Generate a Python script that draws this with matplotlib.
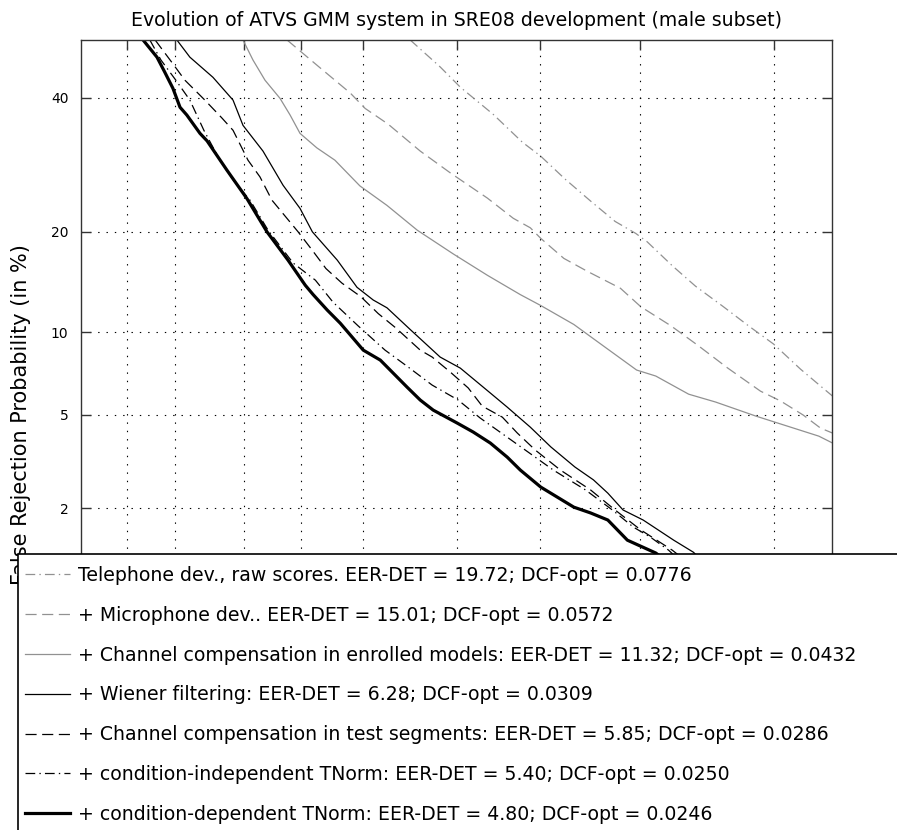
import numpy as np
import matplotlib
matplotlib.use('Agg')
import matplotlib.pyplot as plt
from matplotlib.patches import Rectangle
from statistics import NormalDist

# DET curves, values in % (false acceptance, false rejection)
tel_fa = [3.23, 4.3, 5.17, 6.89, 8.74, 10.1, 12.1, 14.5, 17.1, 19.5, 20.9, 24.2, 27.5, 31.7, 35.7, 39.9, 44.5, 48.4, 50.1, 53.3]
tel_fr = [50, 45.3, 41.8, 37.2, 32.7, 30.5, 27.1, 24, 21.3, 19.8, 18.8, 16.1, 14, 12.1, 10.5, 9.11, 7.44, 6.34, 5.91, 5.22]

mic_fa = [0.848, 1.22, 1.74, 2.04, 2.59, 3.56, 4.72, 6.55, 8.13, 9.31, 10.1, 12, 14.2, 17.7, 20.1, 24, 27.8, 32.4, 37.7, 41.1, 45, 48, 50.1, 53.3]
mic_fr = [50, 45.4, 40.8, 38.2, 35.6, 31.3, 28, 24.4, 21.7, 20.5, 19.2, 16.9, 15.5, 13.8, 12.1, 10.5, 9.03, 7.5, 6.17, 5.66, 4.99, 4.43, 4.23, 3.96]

enr_fa = [0.493, 0.559, 0.649, 0.779, 0.879, 0.988, 1.2, 1.47, 1.93, 2.56, 3.46, 4.85, 6.55, 8.6, 10.1, 12.9, 16, 19.6, 22, 26.5, 30.5, 36.9, 42.8, 47.7, 50.1, 53.3]
enr_fr = [50, 46.5, 43, 39.9, 37.1, 34.1, 31.8, 29.9, 26.1, 23.4, 20.2, 17.4, 15.1, 13.2, 12.2, 10.6, 8.89, 7.38, 7.02, 6.01, 5.61, 4.95, 4.47, 4.11, 3.85, 3.6]

wie_fa = [0.205, 0.245, 0.334, 0.434, 0.493, 0.633, 0.808, 0.988, 1.14, 1.51, 1.87, 2.22, 2.56, 3.23, 4.3, 5.17, 6.72, 7.74, 9.31, 10.9, 13, 14.8, 16.3, 18, 20.4, 24.4, 27.2, 31.3, 36.1]
wie_fr = [50, 47, 43.5, 39.6, 35.4, 31.3, 26.2, 23, 20, 16.7, 13.9, 12.7, 12, 10.2, 8.21, 7.5, 6.07, 5.36, 4.47, 3.71, 3.05, 2.68, 2.34, 1.96, 1.76, 1.41, 1.23, 0.891, 0.619]

tst_fa = [0.151, 0.191, 0.229, 0.3, 0.376, 0.434, 0.525, 0.61, 0.707, 0.966, 1.14, 1.33, 1.59, 1.95, 2.34, 2.81, 3.56, 3.99, 4.72, 5.55, 6.27, 7.43, 8.4, 9.68, 11.7, 14.5, 17.1, 20.1, 24.2, 29.7, 34.4]
tst_fr = [50, 46.1, 43, 39.6, 36.6, 34.6, 29.9, 27.4, 24.1, 20, 17.8, 15.8, 14.3, 13, 11.5, 10.3, 8.68, 8.21, 7.26, 6.34, 5.41, 4.9, 4.23, 3.6, 2.96, 2.42, 1.96, 1.58, 1.26, 0.891, 0.619]

ind_fa = [0.14, 0.164, 0.202, 0.245, 0.296, 0.366, 0.445, 0.539, 0.674, 0.91, 1.18, 1.44, 1.89, 2.51, 3.17, 3.99, 5.07, 6.16, 7.12, 8.95, 11.1, 14, 16.8, 19.2, 21.3, 23.7, 28.2, 32.8]
ind_fr = [50, 46.5, 43, 39.6, 34.6, 29.9, 26.6, 24.1, 20.2, 16.4, 14.6, 12.5, 10.5, 8.68, 7.56, 6.5, 5.71, 4.86, 4.35, 3.6, 2.96, 2.42, 1.96, 1.63, 1.46, 1.26, 0.891, 0.619]

dep_fa = [0.127, 0.155, 0.173, 0.194, 0.214, 0.235, 0.281, 0.309, 0.401, 0.519, 0.665, 0.858, 1.05, 1.15, 1.35, 1.56, 2, 2.39, 3.13, 3.56, 4.03, 5.03, 5.8, 6.72, 7.74, 8.6, 10.1, 12.9, 14.5, 16.3, 18.5, 22, 26.8, 31.3]
dep_fr = [50, 47, 44.4, 41.6, 38.4, 37.1, 34.1, 32.9, 28.4, 24.3, 20, 16.7, 14.1, 13.2, 11.8, 10.7, 8.68, 8.01, 6.39, 5.71, 5.22, 4.64, 4.27, 3.85, 3.36, 2.96, 2.49, 2.02, 1.9, 1.76, 1.41, 1.22, 0.891, 0.619]

labels = [
    'Telephone dev., raw scores. EER-DET = 19.72; DCF-opt = 0.0776',
    '+ Microphone dev.. EER-DET = 15.01; DCF-opt = 0.0572',
    '+ Channel compensation in enrolled models: EER-DET = 11.32; DCF-opt = 0.0432',
    '+ Wiener filtering: EER-DET = 6.28; DCF-opt = 0.0309',
    '+ Channel compensation in test segments: EER-DET = 5.85; DCF-opt = 0.0286',
    '+ condition-independent TNorm: EER-DET = 5.40; DCF-opt = 0.0250',
    '+ condition-dependent TNorm: EER-DET = 4.80; DCF-opt = 0.0246',
]
tick_vals = [0.1, 0.2, 0.5, 1, 2, 5, 10, 20, 40]
tick_labels = ['0.1', '0.2', '0.5', '1', '2', '5', '10', '20', '40']

# normal deviate (probit) scale used by DET plots
nd = NormalDist()
_ppf = np.vectorize(nd.inv_cdf, otypes=[float])
_cdf = np.vectorize(nd.cdf, otypes=[float])

def probit(p):
    p = np.clip(np.asarray(p, dtype=float) / 100.0, 1e-9, 1 - 1e-9)
    return _ppf(p)

def inv_probit(z):
    return 100.0 * _cdf(np.asarray(z, dtype=float))

plt.rcParams['font.family'] = 'DejaVu Sans'
plt.rcParams['lines.scale_dashes'] = False

fig = plt.figure(figsize=(8.97, 8.30), dpi=100)
ax = fig.add_axes([81 / 897, 1 - 790 / 830, 751 / 897, 750 / 830])
ax.set_xscale('function', functions=(probit, inv_probit))
ax.set_yscale('function', functions=(probit, inv_probit))

gray = '0.57'
dashdot = (0, (7, 3, 1, 3))
dashed = (0, (8, 4))
h1, = ax.plot(tel_fa, tel_fr, color=gray, lw=0.9, linestyle=dashdot)
h2, = ax.plot(mic_fa, mic_fr, color=gray, lw=0.9, linestyle=dashed)
h3, = ax.plot(enr_fa, enr_fr, color=gray, lw=0.9, linestyle='-')
h4, = ax.plot(wie_fa, wie_fr, color='k', lw=0.9, linestyle='-')
h5, = ax.plot(tst_fa, tst_fr, color='k', lw=0.9, linestyle=dashed)
h6, = ax.plot(ind_fa, ind_fr, color='k', lw=0.9, linestyle=dashdot)
h7, = ax.plot(dep_fa, dep_fr, color='k', lw=2.3, linestyle='-')

ax.set_xlim(0.05, 50)
ax.set_ylim(0.05, 50)
ax.set_xticks(tick_vals)
ax.set_xticklabels(tick_labels)
ax.set_yticks(tick_vals)
ax.set_yticklabels(tick_labels)
ax.minorticks_off()
ax.tick_params(direction='in', length=7, width=1, top=True, right=True,
               labelsize=10, pad=9, color='0.2')
# x tick labels sit under the legend box in the original
ax.tick_params(axis='x', labelbottom=False)
ax.grid(True, color='k', linestyle=(0, (1, 5)), linewidth=0.8)
for s in ax.spines.values():
    s.set_color('0.2')
    s.set_linewidth(1.0)

ax.set_title('Evolution of ATVS GMM system in SRE08 development (male subset)',
             fontsize=13.6, pad=10)
ax.set_ylabel('False Rejection Probability (in %)', fontsize=15)
ax.yaxis.set_label_coords(-0.066, 0.5)

# legend box runs past the right and bottom edges of the figure
box = Rectangle((18 / 897, -0.1), 1.0, 1 - 554 / 830 + 0.1, transform=fig.transFigure,
                facecolor='white', edgecolor='k', linewidth=1.2, zorder=4.9)
fig.patches.append(box)

leg = fig.legend([h1, h2, h3, h4, h5, h6, h7], labels, loc='upper left',
                 bbox_to_anchor=(25 / 897, 1 - 566 / 830), frameon=False,
                 fontsize=13.6, handlelength=2.4, handletextpad=0.42,
                 borderpad=0, labelspacing=1.1, borderaxespad=0)
leg.set_zorder(5)

fig.savefig('out.png', dpi=100)
